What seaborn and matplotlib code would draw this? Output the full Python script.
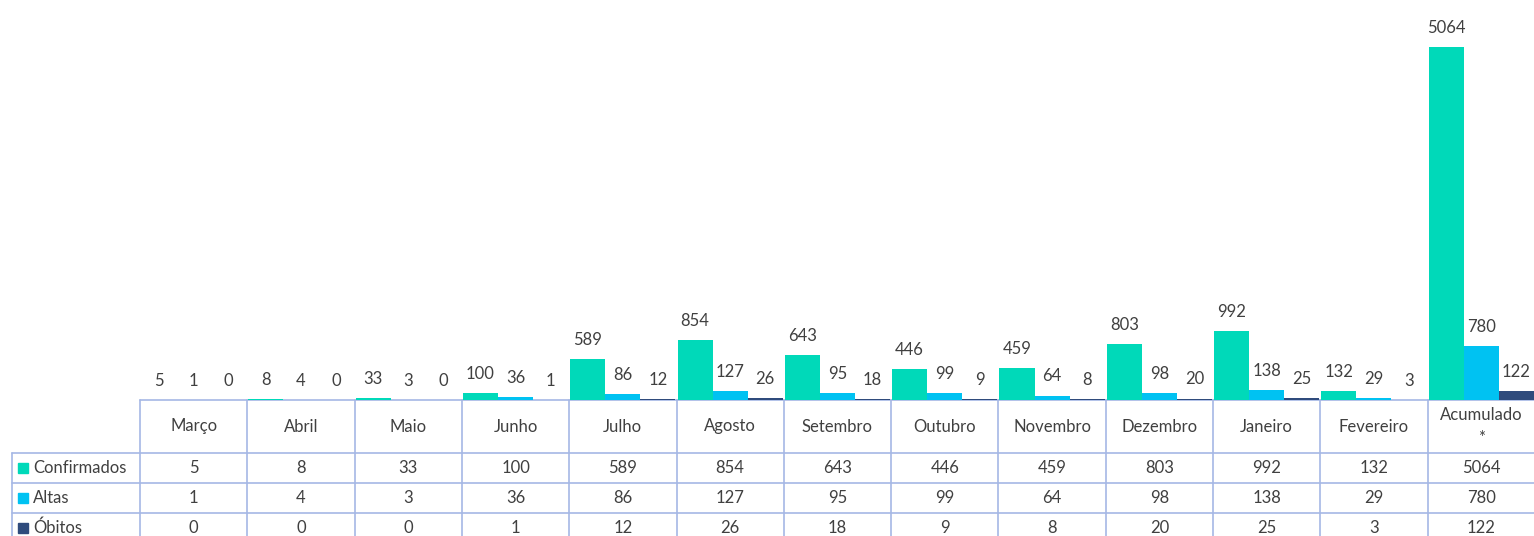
import matplotlib.pyplot as plt
from matplotlib.patches import Rectangle
import pandas as pd
import seaborn as sns


MESES = ["Março", "Abril", "Maio", "Junho", "Julho", "Agosto", "Setembro",
         "Outubro", "Novembro", "Dezembro", "Janeiro", "Fevereiro", "Acumulado\n*"]
CONFIRMADOS = [5, 8, 33, 100, 589, 854, 643, 446, 459, 803, 992, 132, 5064]
ALTAS = [1, 4, 3, 36, 86, 127, 95, 99, 64, 98, 138, 29, 780]
OBITOS = [0, 0, 0, 1, 12, 26, 18, 9, 8, 20, 25, 3, 122]
SERIES = ["Confirmados", "Altas", "Óbitos"]
CORES = ["#00D9B9", "#00C2F2", "#2F4B7C"]

TEXTO = "#404040"
GRADE = "#A5B8E5"
W, H = 1534, 536


def main() -> None:
    sns.set_theme(style="white")
    plt.rcParams["font.family"] = ["Lato", "DejaVu Sans"]

    df = pd.DataFrame({
        "mes": MESES * 3,
        "serie": [s for s in SERIES for _ in MESES],
        "valor": CONFIRMADOS + ALTAS + OBITOS,
    })

    fig = plt.figure(figsize=(W / 100, H / 100), dpi=100)
    left = 140 / W
    width = (13 * 107.3) / W
    base = (H - 400) / H

    # Tabela de dados (desenhada antes para ficar por baixo das barras)
    tb = fig.add_axes([left, 0, width, base])
    tb.set_xlim(-0.5, 12.5)
    tb.set_ylim(H - 400, 0)
    tb.set_axis_off()

    # Barras agrupadas
    ax = fig.add_axes([left, base, width, 1 - base])
    sns.barplot(data=df, x="mes", y="valor", hue="serie", order=MESES,
                hue_order=SERIES, palette=CORES, width=0.98, saturation=1,
                legend=False, ax=ax, linewidth=0)
    for cont in ax.containers:
        ax.bar_label(cont, padding=8, fontsize=12, color=TEXTO)
    ax.set_xlim(-0.5, 12.5)
    ax.set_ylim(0, 5064 * 400 / 353)
    ax.set_axis_off()

    x_lab = -0.5 - 128 / 107.3
    linhas = [0, 53, 83, 113]
    kw = dict(color=GRADE, lw=1.2, clip_on=False)
    tb.plot([-0.5, 12.5], [0, 0], **kw)
    for y in linhas[1:]:
        tb.plot([x_lab, 12.5], [y, y], **kw)
    for i in range(13):
        tb.plot([i - 0.5, i - 0.5], [0, H - 400], **kw)
    tb.plot([x_lab, x_lab], [53, H - 400], **kw)

    for i, mes in enumerate(MESES):
        tb.text(i, 26.5, mes, ha="center", va="center", fontsize=12,
                color=TEXTO, linespacing=1.5)

    valores = [CONFIRMADOS, ALTAS, OBITOS]
    for r, (serie, cor, vals) in enumerate(zip(SERIES, CORES, valores)):
        yc = 68 + 30 * r
        tb.add_patch(Rectangle((x_lab + 6 / 107.3, yc - 5), 10 / 107.3, 10,
                               color=cor, clip_on=False))
        tb.text(x_lab + 21 / 107.3, yc, serie, ha="left", va="center",
                fontsize=12, color=TEXTO, clip_on=False)
        for i, v in enumerate(vals):
            tb.text(i, yc, str(v), ha="center", va="center", fontsize=12,
                    color=TEXTO)

    fig.savefig("out.png", dpi=100)
    plt.close(fig)


if __name__ == "__main__":
    main()
